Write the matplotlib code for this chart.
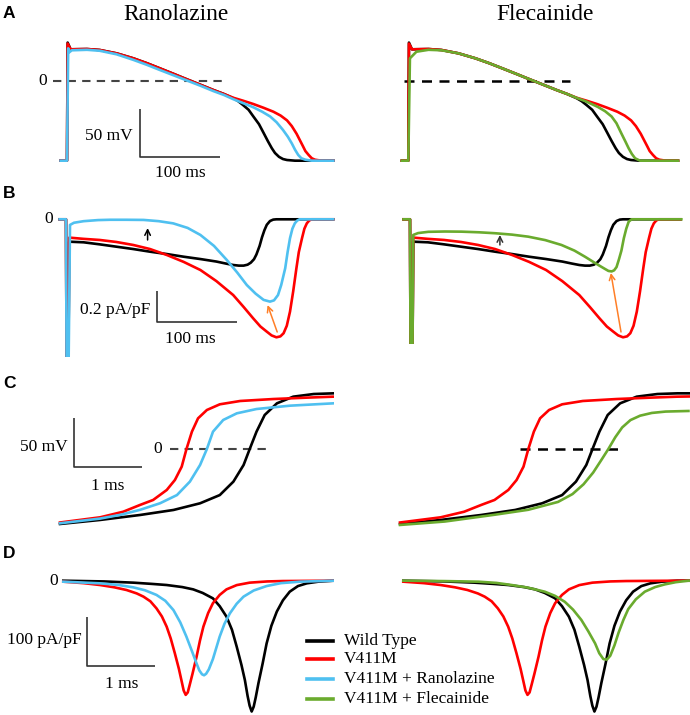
import matplotlib
matplotlib.use("Agg")
import matplotlib.pyplot as plt

# colours
c_wt = "black"
c_mut = "#ff0000"
c_ran = "#4fc0f0"
c_fle = "#6aab2e"

# Panel A: action potentials (ms, mV)
ap_t_wt = [-8, 0, 0.8, 4.5, 25, 41, 62, 83, 100, 116, 133, 150, 167, 183, 196, 208, 214, 220, 227, 233,
           240, 246, 251, 256, 260, 265, 270, 275, 285, 333]
ap_v_wt = [-83, -83, 40, 33, 33.3, 32.3, 28.8, 23.6, 18.5, 13.2, 7.5, 1.7, -4, -9.4, -13.5, -18, -21, -25, -30, -37,
           -45, -54.5, -62.5, -70, -75, -79, -81.3, -82.3, -83, -83]
ap_t_mut = [-8, 0, 0.8, 4.5, 25, 41, 62, 83, 100, 116, 133, 150, 167, 183, 196, 208, 220, 233, 246, 258,
            267, 275, 281, 287, 291, 295, 298, 302, 306, 310, 318, 333]
ap_v_mut = [-83, -83, 39, 33, 33.3, 32.3, 28.8, 23.6, 18.5, 13.2, 7.5, 1.7, -4, -9.4, -13.5, -17.5, -20.5, -24, -28, -32,
            -36, -41, -47, -55, -61.5, -68, -73, -77, -80.5, -82, -83, -83]
ap_t_ran = [-8, 0, 1.5, 3, 6, 25, 41, 62, 83, 100, 116, 133, 150, 167, 183, 196, 208, 220, 233, 244,
            254, 262, 270, 276, 281, 285, 289, 293, 298, 306, 333]
ap_v_ran = [-83, -83, 34, 30, 32, 32.5, 31.5, 27.8, 22, 16.8, 11.5, 6, 0.5, -5, -10.5, -14.5, -19, -23, -27.4, -32,
            -37, -43, -51, -58, -65, -71.5, -77, -80.5, -82, -83, -83]
ap_t_fle = [-8, 0, 2, 10, 25, 41, 62, 83, 100, 116, 133, 150, 167, 183, 196, 206, 220, 234, 243, 251,
            257, 263, 268, 272, 276, 280, 286, 333]
ap_v_fle = [-83, -83, 23.6, 30.5, 32.5, 32, 28.8, 23.6, 18.5, 13.2, 7.5, 1.7, -4, -9.4, -13.5, -17, -21.5, -27, -31.5, -37,
            -44, -54.5, -63, -70, -76, -80.5, -83, -83]

# Panel B: late sodium current (ms, pA/pF)
late_t_wt = [-8, 0, 1, 2.5, 4, 22, 42, 63, 84, 105, 126, 147, 168, 188, 200, 209, 216, 222, 227, 231,
             235, 238, 242, 245, 248, 251, 255, 259, 263, 334]
late_i_wt = [0, 0, -1.3, -1.3, -0.143, -0.147, -0.16, -0.175, -0.19, -0.207, -0.222, -0.239, -0.254, -0.27, -0.283,
             -0.292, -0.296, -0.296, -0.29, -0.277, -0.255, -0.225, -0.17, -0.115, -0.07, -0.035, -0.011, -0.002, 0, 0]
late_t_mut = [-8, 0, 1, 2.5, 4, 22, 42, 63, 84, 105, 126, 147, 168, 188, 209, 222, 234, 243, 251, 257,
              263, 268, 272, 276, 280, 284, 288, 291, 295, 298, 301, 304, 307, 334]
late_i_mut = [0, 0, -1.3, -1.3, -0.117, -0.125, -0.132, -0.145, -0.164, -0.19, -0.228, -0.272, -0.324, -0.395, -0.484,
              -0.56, -0.633, -0.685, -0.718, -0.742, -0.754, -0.748, -0.728, -0.68, -0.59, -0.46, -0.313, -0.21,
              -0.121, -0.06, -0.026, -0.008, 0, 0]
late_t_ran = [-8, 0, 1, 2.5, 5, 10, 22, 40, 55, 75, 97, 116, 134, 152, 168, 185, 201, 214, 226, 237,
              247, 255, 260, 265, 269, 274, 277, 280, 283, 286, 289, 292, 334]
late_i_ran = [0, 0, -1.3, -1.3, -0.036, -0.022, -0.012, -0.005, -0.003, -0.003, -0.004, -0.012, -0.026, -0.055, -0.1,
              -0.17, -0.26, -0.34, -0.42, -0.475, -0.515, -0.526, -0.518, -0.484, -0.42, -0.313, -0.21, -0.121,
              -0.06, -0.026, -0.008, 0, 0]
late_t_fle = [-8, 0, 1, 2.5, 4, 10, 22.6, 43, 63.8, 85, 105, 126, 146, 167, 187, 203, 216, 225, 232.5, 240,
              245, 249, 252, 255, 258, 261, 264, 267, 270, 273.6, 335]
late_i_fle = [0, 0, -1.3, -1.3, -0.1, -0.088, -0.08, -0.078, -0.079, -0.083, -0.089, -0.098, -0.111, -0.133, -0.164,
              -0.2, -0.239, -0.268, -0.292, -0.315, -0.33, -0.333, -0.326, -0.305, -0.255, -0.2, -0.121, -0.06,
              -0.015, 0, 0]

# Panel C: upstroke (ms, mV)
up_t_wt = [0, 0.59, 1.18, 1.67, 2.06, 2.35, 2.55, 2.70, 2.79, 2.89, 3.01, 3.19, 3.43, 3.73, 4.02, 4.2]
up_v_wt = [-76.5, -72.4, -67.3, -62.2, -55.4, -47, -33.3, -16.3, 0, 17.7, 34.7, 46.6, 53.4, 56.1, 56.8, 56.8]
up_t_mut = [0, 0.59, 0.93, 1.18, 1.37, 1.57, 1.69, 1.79, 1.86, 1.94, 2.03, 2.16, 2.35, 2.65, 3.14, 3.63, 4.02, 4.2]
up_v_mut = [-75, -69.7, -64, -57, -52, -41.8, -31.6, -18, 0, 17.7, 31.3, 39.8, 45.6, 49, 51, 52.4, 53.4, 53.6]
up_t_ran = [0, 0.59, 0.9, 1.18, 1.47, 1.72, 1.91, 2.06, 2.16, 2.25, 2.40, 2.6, 2.89, 3.38, 4.02]
up_v_ran = [-75.8, -71, -67, -62, -55.4, -47, -33.3, -16.3, 0, 17.7, 29.6, 36.4, 40.8, 44.2, 46.6]
up_t_fle = [0, 0.65, 1.38, 1.86, 2.29, 2.5, 2.66, 2.8, 2.92, 3.02, 3.12, 3.22, 3.34, 3.48, 3.65, 3.85, 4.18]
up_v_fle = [-77.5, -74, -67, -62, -54, -46, -36, -24, -11, 0, 12, 22, 29.5, 34, 36.8, 38.2, 38.8]

# Panel D: peak sodium current (ms, pA/pF)
pk_t_wt = [0, 0.6, 1.03, 1.3, 1.52, 1.75, 1.91, 2.05, 2.2, 2.3, 2.4, 2.48, 2.55, 2.62, 2.67, 2.71, 2.74, 2.77,
           2.8, 2.83, 2.87, 2.93, 2.99, 3.06, 3.14, 3.23, 3.33, 3.45, 3.58, 3.75, 3.97, 4.2]
pk_i_wt = [0, -1.5, -4, -6.5, -8.8, -13, -17.7, -25, -36, -52, -73.4, -100, -134.6, -172, -202.6, -235, -255, -267,
           -257, -238, -209, -170, -128, -92, -63, -40, -22.4, -11, -5.4, -2, 0, 0]
pk_t_mut = [0, 0.3, 0.54, 0.75, 0.93, 1.08, 1.18, 1.28, 1.37, 1.45, 1.52, 1.58, 1.64, 1.70, 1.74, 1.77, 1.80,
            1.83, 1.86, 1.9, 1.96, 2.01, 2.06, 2.13, 2.2, 2.3, 2.4, 2.55, 2.74, 3.0, 3.23, 3.97, 4.2]
pk_i_mut = [-2, -5, -8.8, -13.5, -19, -26, -32.6, -42, -56.4, -73, -93.8, -118, -148, -180, -205, -224, -233,
            -228, -212, -190, -155, -122, -93.8, -66, -46, -29, -17.7, -9, -4, -1.5, -0.7, 0, 0]
pk_t_ran = [0, 0.54, 0.8, 1.03, 1.2, 1.37, 1.5, 1.62, 1.72, 1.81, 1.89, 1.96, 2.0, 2.04, 2.07, 2.1, 2.14, 2.2,
            2.25, 2.3, 2.37, 2.45, 2.55, 2.65, 2.8, 2.99, 3.2, 3.48, 3.97]
pk_i_ran = [-2, -5.4, -8.5, -13.6, -19.5, -29, -41, -60, -85, -114, -143, -169, -183, -191, -193, -190, -181, -160,
            -137, -114, -88, -66.6, -47, -32.6, -20, -10.9, -5, -2, 0]
pk_t_fle = [0, 0.6, 1.09, 1.35, 1.57, 1.8, 2.05, 2.2, 2.34, 2.46, 2.58, 2.68, 2.78, 2.84, 2.9, 2.95, 3.0, 3.06,
            3.12, 3.19, 3.26, 3.37, 3.5, 3.65, 3.79, 3.95, 4.13, 4.2]
pk_i_fle = [0, -0.8, -2, -4.5, -8.8, -14, -22.4, -31, -43, -59, -80, -103, -128, -148, -160, -161, -153, -132,
            -106, -80, -58, -38, -22.4, -13, -7.5, -3, 0, 0]

legend_labels = ["Wild Type", "V411M", "V411M + Ranolazine", "V411M + Flecainide"]

W, H = 690, 715
plt.rcParams['font.family'] = ['Liberation Serif', 'DejaVu Serif']
fig = plt.figure(figsize=(W / 100, H / 100), dpi=100)

LW = 1.9
SERIF = 12.5


def px(x, y):
    return x / W, 1 - y / H


# axes placed by pixel box, with an origin pixel and pixels per unit
def add_panel(box, x0, y0, ppx, ppy):
    left, top, right, bottom = box
    ax = fig.add_axes([left / W, 1 - bottom / H, (right - left) / W, (bottom - top) / H])
    ax.set_xlim((left - x0) / ppx, (right - x0) / ppx)
    ax.set_ylim((y0 - bottom) / ppy, (y0 - top) / ppy)
    ax.axis('off')
    return ax


def scale_bar(ax, x, y, dx, dy):
    ax.plot([x, x, x + dx], [y + dy, y, y], color="#333333", lw=1.2, solid_capstyle='butt')


def arrow(ax, tail, tip, color):
    ax.annotate('', xy=tip, xytext=tail,
                arrowprops=dict(arrowstyle='->', color=color, lw=1.1, shrinkA=0, shrinkB=0))


def traces(ax, t_wt, y_wt, t_mut, y_mut, t_d, y_d, c_d):
    ax.plot(t_wt, y_wt, color=c_wt, lw=LW, solid_joinstyle='round')
    ax.plot(t_mut, y_mut, color=c_mut, lw=LW, solid_joinstyle='round')
    ax.plot(t_d, y_d, color=c_d, lw=LW, solid_joinstyle='round')


# ---- A ----
axA1 = add_panel((20, 30, 345, 185), 67, 81, 0.8, 0.96)
axA2 = add_panel((355, 30, 690, 185), 408.3, 81, 0.81, 0.96)
axA1.plot([-17.5, 201], [0, 0], color="#444444", lw=1.5, ls=(0, (4, 3)))
axA2.plot([-5.3, 200], [0, 0], color="black", lw=1.8, ls=(0, (4, 3)))
traces(axA1, ap_t_wt, ap_v_wt, ap_t_mut, ap_v_mut, ap_t_ran, ap_v_ran, c_ran)
traces(axA2, ap_t_wt, ap_v_wt, ap_t_mut, ap_v_mut, ap_t_fle, ap_v_fle, c_fle)
scale_bar(axA1, 91.25, -79.2, 100, 50)

# ---- B ----
axB1 = add_panel((20, 195, 345, 357), 66, 219.3, 0.8, 156.5)
axB2 = add_panel((355, 195, 690, 344), 410, 219.3, 0.81, 156.5)
traces(axB1, late_t_wt, late_i_wt, late_t_mut, late_i_mut, late_t_ran, late_i_ran, c_ran)
traces(axB2, late_t_wt, late_i_wt, late_t_mut, late_i_mut, late_t_fle, late_i_fle, c_fle)
scale_bar(axB1, 113.75, -0.658, 100, 0.2)
arrow(axB1, (102, -0.132), (102, -0.056), "black")
arrow(axB1, (264, -0.72), (252, -0.548), "#ff7f27")
arrow(axB2, (111, -0.164), (111, -0.1), "#333333")
arrow(axB2, (260.5, -0.72), (248, -0.343), "#ff7f27")

# ---- C ----
axC1 = add_panel((20, 370, 334, 530), 60, 449, 68, 0.98)
axC2 = add_panel((355, 370, 690, 530), 400, 449, 69, 0.98)
axC1.plot([1.62, 3.06], [0, 0], color="#444444", lw=1.5, ls=(0, (4, 3)))
axC2.plot([1.74, 3.26], [0, 0], color="black", lw=1.8, ls=(0, (4, 3)))
traces(axC1, up_t_wt, up_v_wt, up_t_mut, up_v_mut, up_t_ran, up_v_ran, c_ran)
traces(axC2, up_t_wt, up_v_wt, up_t_mut, up_v_mut, up_t_fle, up_v_fle, c_fle)
scale_bar(axC1, 0.206, -18.4, 1, 50)

# ---- D ----
axD1 = add_panel((20, 560, 334, 715), 63.3, 580.7, 68, 0.49)
axD2 = add_panel((355, 560, 690, 715), 403.3, 580.7, 69, 0.49)
traces(axD1, pk_t_wt, pk_i_wt, pk_t_mut, pk_i_mut, pk_t_ran, pk_i_ran, c_ran)
traces(axD2, pk_t_wt, pk_i_wt, pk_t_mut, pk_i_mut, pk_t_fle, pk_i_fle, c_fle)
scale_bar(axD1, 0.35, -174, 1, 100)

# ---- texts ----
fig.text(*px(176, 14), "Ranolazine", fontsize=16.8, ha='center', va='center')
fig.text(*px(545, 14), "Flecainide", fontsize=16.8, ha='center', va='center')

for letter, y in [("A", 14), ("B", 193), ("C", 383), ("D", 554)]:
    fig.text(*px(3, y), letter, fontsize=12.5, fontweight='bold', family='Liberation Sans',
             ha='left', va='center')

for x, y in [(43, 81), (49, 219), (158, 449), (54, 581)]:
    fig.text(*px(x, y), "0", fontsize=SERIF, ha='center', va='center')

fig.text(*px(133, 136), "50 mV", fontsize=SERIF, ha='right', va='center')
fig.text(*px(180, 173), "100 ms", fontsize=SERIF, ha='center', va='center')
fig.text(*px(150, 310), "0.2 pA/pF", fontsize=SERIF, ha='right', va='center')
fig.text(*px(190, 339), "100 ms", fontsize=SERIF, ha='center', va='center')
fig.text(*px(68, 447), "50 mV", fontsize=SERIF, ha='right', va='center')
fig.text(*px(108, 486), "1 ms", fontsize=SERIF, ha='center', va='center')
fig.text(*px(82, 640), "100 pA/pF", fontsize=SERIF, ha='right', va='center')
fig.text(*px(122, 684), "1 ms", fontsize=SERIF, ha='center', va='center')

# ---- legend ----
legend_colors = [c_wt, c_mut, c_ran, c_fle]
legend_rows = [640.7, 659.3, 679.3, 699]
for lab, col, y in zip(legend_labels, legend_colors, legend_rows):
    fig.add_artist(plt.Line2D([307 / W, 333 / W], [1 - y / H, 1 - y / H], color=col, lw=2.6))
    fig.text(*px(344, y), lab, fontsize=SERIF, ha='left', va='center')

fig.savefig("out.png", dpi=100)
